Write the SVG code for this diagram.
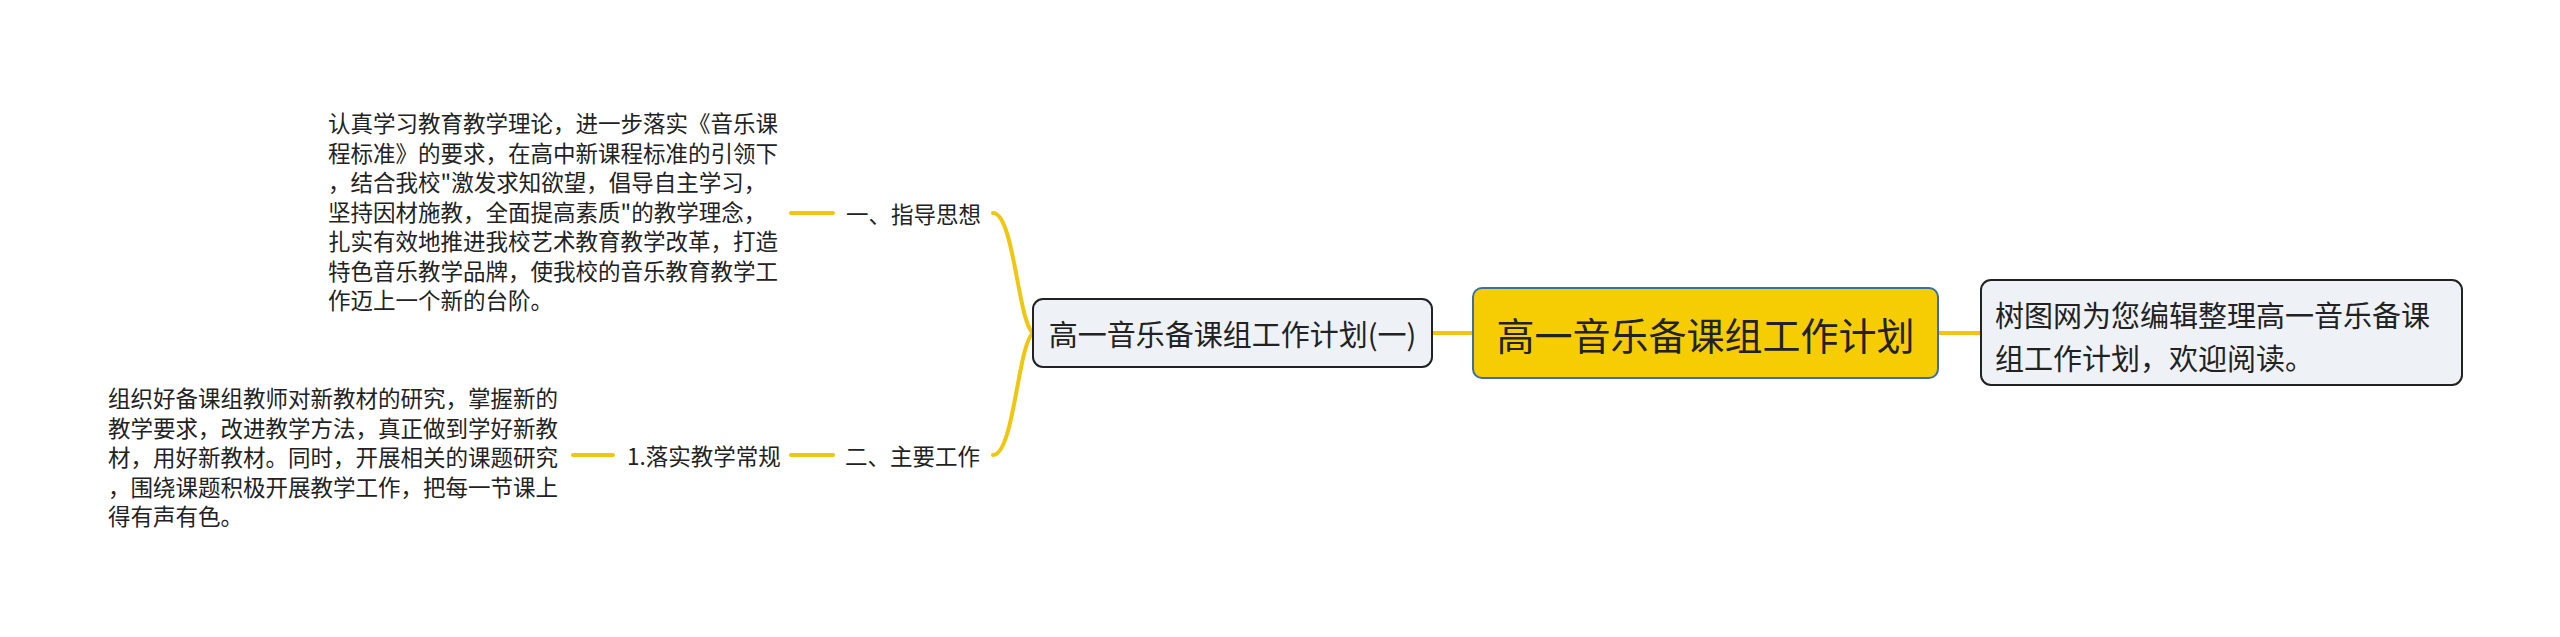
<svg xmlns="http://www.w3.org/2000/svg" width="2560" height="637" viewBox="0 0 2560 637">
<style>
text{font-family:"Noto Sans CJK SC","Noto Sans",sans-serif;fill:#222;dominant-baseline:central}
.lbl{font-size:22.5px}
.det{font-size:22.5px}
.conn{stroke:#f0c60f;stroke-width:4;fill:none;stroke-linecap:round}
</style>
<rect width="2560" height="637" fill="#ffffff"/>
<g id="connectors">
<path class="conn" d="M1432 333 H1473"/>
<path class="conn" d="M1938 333 H1981"/>
<path class="conn" d="M1033 333 C1018 322 1014 213 993 213"/>
<path class="conn" d="M1033 333 C1018 344 1014 455 993 455"/>
<path class="conn" d="M791 213 H833"/>
<path class="conn" d="M791 455 H833"/>
<path class="conn" d="M573 455 H613"/>
</g>
<g id="root">
<rect x="1473" y="288" width="465" height="90" rx="9" fill="#f5cd02" stroke="#3a6ea8" stroke-width="2"/>
<text x="1705.5" y="333" text-anchor="middle" style="font-size:38px">高一音乐备课组工作计划</text>
</g>
<g id="intro">
<rect x="1981" y="280" width="481" height="105" rx="10" fill="#eef1f5" stroke="#222" stroke-width="2"/>
<text x="1995" y="314" style="font-size:29px">树图网为您编辑整理高一音乐备课</text>
<text x="1995" y="357" style="font-size:29px">组工作计划，欢迎阅读。</text>
</g>
<g id="plan1">
<rect x="1033" y="299" width="399" height="68" rx="10" fill="#eef1f5" stroke="#222" stroke-width="2"/>
<text x="1232.5" y="333" text-anchor="middle" style="font-size:29px">高一音乐备课组工作计划(一)</text>
</g>
<g id="guide">
<text class="lbl" x="846" y="213">一、指导思想</text>
</g>
<g id="guide-detail">
<text class="det" x="328" y="122">认真学习教育教学理论，进一步落实《音乐课</text>
<text class="det" x="328" y="151.5">程标准》的要求，在高中新课程标准的引领下</text>
<text class="det" x="328" y="181">，结合我校"激发求知欲望，倡导自主学习，</text>
<text class="det" x="328" y="210.5">坚持因材施教，全面提高素质"的教学理念，</text>
<text class="det" x="328" y="240">扎实有效地推进我校艺术教育教学改革，打造</text>
<text class="det" x="328" y="269.5">特色音乐教学品牌，使我校的音乐教育教学工</text>
<text class="det" x="328" y="299">作迈上一个新的台阶。</text>
</g>
<g id="main-work">
<text class="lbl" x="845" y="455">二、主要工作</text>
</g>
<g id="routine">
<text class="lbl" x="627" y="455">1.落实教学常规</text>
</g>
<g id="routine-detail">
<text class="det" x="108" y="397">组织好备课组教师对新教材的研究，掌握新的</text>
<text class="det" x="108" y="426.5">教学要求，改进教学方法，真正做到学好新教</text>
<text class="det" x="108" y="456">材，用好新教材。同时，开展相关的课题研究</text>
<text class="det" x="108" y="485.5">，围绕课题积极开展教学工作，把每一节课上</text>
<text class="det" x="108" y="515">得有声有色。</text>
</g>
</svg>
